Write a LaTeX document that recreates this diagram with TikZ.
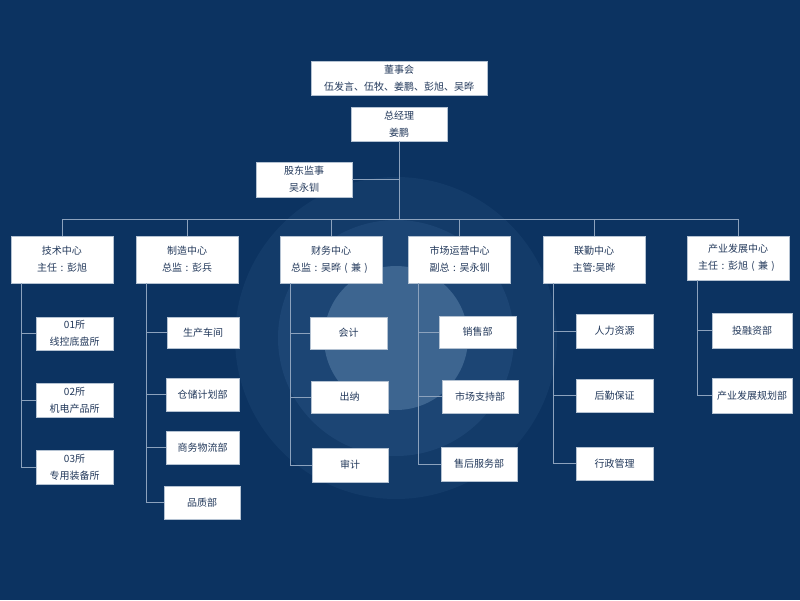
\documentclass[tikz,border=0pt]{standalone}
\usepackage{fontspec}
\newfontfamily\cjk{Noto Sans CJK SC}
\usetikzlibrary{calc}
\definecolor{bgc}{HTML}{0C3361}
\definecolor{ringA}{HTML}{133B69}
\definecolor{ringB}{HTML}{1C4574}
\definecolor{ringC}{HTML}{3D6590}
\definecolor{linec}{HTML}{8CA2BD}
\definecolor{boxline}{HTML}{B4C2D2}
\definecolor{txt}{HTML}{23395B}
\newcommand{\fwc}{\makebox[1em][c]{:}}
\newcommand{\fwl}{\makebox[1em][c]{(}}
\newcommand{\fwr}{\makebox[1em][c]{)}}
\tikzset{
  orgbox/.style={draw=boxline, line width=0.8pt, fill=white, inner sep=0pt, align=center,
    text=txt, font=\cjk\fontsize{10}{17}\selectfont},
  topbox/.style={orgbox, minimum height=47pt, minimum width=102pt},
  kidbox/.style={orgbox, minimum height=33pt, minimum width=77pt},
  conn/.style={draw=linec, line width=1pt}
}
\begin{document}
\begin{tikzpicture}[x=1pt,y=-1pt]
\useasboundingbox (0,0) rectangle (800,600);
\fill[bgc] (0,0) rectangle (800,600);
% background circles
\fill[ringA] (396,338) circle[radius=161];
\fill[ringB] (396,338) circle[radius=118];
\fill[ringC] (396,338) circle[radius=72];

% top nodes
\node[orgbox, minimum width=176pt, minimum height=34pt] (board) at (399,78) {董事会\\伍发言、伍牧、姜鹏、彭旭、吴晔};
\node[orgbox, minimum width=96pt, minimum height=34pt] (gm) at (399,124) {总经理\\姜鹏};
\node[orgbox, minimum width=96pt, minimum height=35pt] (sup) at (304,179.5) {股东监事\\吴永钏};

% level 2
\node[topbox] (tech) at (62,259.5) {技术中心\\主任\fwc 彭旭};
\node[topbox] (mfg) at (187,259.5) {制造中心\\总监\fwc 彭兵};
\node[topbox] (fin) at (331,259.5) {财务中心\\总监\fwc 吴晔\fwl 兼\fwr};
\node[topbox] (mkt) at (459.5,259.5) {市场运营中心\\副总\fwc 吴永钏};
\node[topbox] (log) at (594,259.5) {联勤中心\\主管:吴晔};
\node[topbox, minimum height=44pt] (ind) at (738,258) {产业发展中心\\主任\fwc 彭旭\fwl 兼\fwr};

% bus
\coordinate (busL) at (62,219);
\coordinate (busR) at (738,219);
\draw[conn] (busL) -- (busR);
\draw[conn] (gm.south) -- (gm.south |- busL);
\draw[conn] (sup.east) -- (sup.east -| gm.south);
\foreach \n in {tech,mfg,fin,mkt,log,ind}{
  \draw[conn] (\n.north) -- (\n.north |- busL);
}

% tech children
\node[kidbox, minimum height=33pt] (t1) at (74.5,333.5) {01所\\线控底盘所};
\node[kidbox, minimum height=34pt] (t2) at (74.5,400) {02所\\机电产品所};
\node[kidbox, minimum height=34pt] (t3) at (74.5,467) {03所\\专用装备所};
% mfg children
\node[kidbox, minimum width=72pt, minimum height=31pt] (m1) at (203,332.5) {生产车间};
\node[kidbox, minimum width=73pt] (m2) at (202.5,394.5) {仓储计划部};
\node[kidbox, minimum width=73pt] (m3) at (202.5,447.5) {商务物流部};
\node[kidbox, minimum width=76pt] (m4) at (202,502.5) {品质部};
% fin children
\node[kidbox, minimum height=32pt] (f1) at (348.5,333) {会计};
\node[kidbox, minimum height=32pt] (f2) at (349.5,397) {出纳};
\node[kidbox, minimum width=76pt, minimum height=34pt] (f3) at (350,465) {审计};
% mkt children
\node[kidbox, minimum height=32pt] (k1) at (477.5,332) {销售部};
\node[kidbox, minimum width=76pt] (k2) at (480,396.5) {市场支持部};
\node[kidbox, minimum width=76pt, minimum height=34pt] (k3) at (479,464) {售后服务部};
% log children
\node[kidbox, minimum height=34pt] (g1) at (614.5,331) {人力资源};
\node[kidbox] (g2) at (614.5,395.5) {后勤保证};
\node[kidbox] (g3) at (614.5,463.5) {行政管理};
% ind children
\node[kidbox, minimum width=80pt, minimum height=35pt] (i1) at (752,330.5) {投融资部};
\node[kidbox, minimum width=80pt, minimum height=35pt] (i2) at (752,395.5) {产业发展规划部};

% elbow connectors
\foreach \p/\kids in {tech/{t1,t2,t3}, mfg/{m1,m2,m3,m4}, fin/{f1,f2,f3}, mkt/{k1,k2,k3}, log/{g1,g2,g3}, ind/{i1,i2}}{
  \foreach \k in \kids {
    \draw[conn] ($(\p.south west)+(10.5,0)$) |- (\k.west);
  }
}
\end{tikzpicture}
\end{document}
